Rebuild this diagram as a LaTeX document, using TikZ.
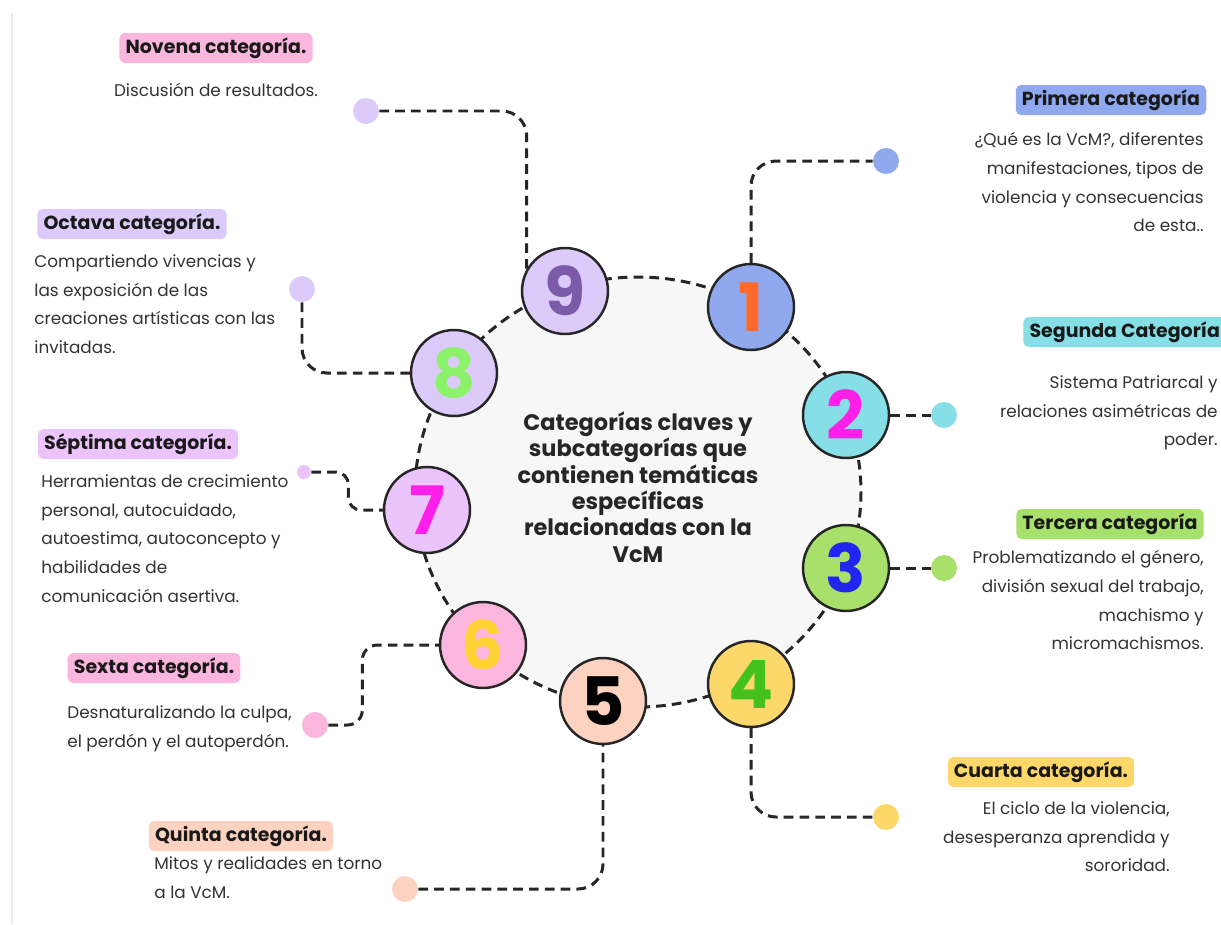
\documentclass[tikz,border=0pt]{standalone}
\usepackage{fontspec}
\setmainfont{Poppins}
\usepackage{tikz}

\definecolor{lila}{HTML}{DCCBFA}
\definecolor{azul}{HTML}{8FA8EE}
\definecolor{celeste}{HTML}{86DFE6}
\definecolor{verde}{HTML}{A7E06A}
\definecolor{amarillo}{HTML}{FCD86A}
\definecolor{durazno}{HTML}{FCD3C1}
\definecolor{rosa}{HTML}{FBB6DE}
\definecolor{violeta}{HTML}{EBC4FB}
\definecolor{fondo}{HTML}{F7F7F7}

\begin{document}
\begin{tikzpicture}
[x=0.02cm, y=-0.02cm,
link/.style={black!85, line width=1.7pt, dash pattern=on 5.5pt off 3.5pt, rounded corners=0.5cm},
num/.style={circle, draw=black!85, line width=1.4pt, minimum size=1.72cm, inner sep=0pt, font=\fontsize{38}{38}\bfseries},
dot/.style={circle, minimum size=0.52cm, inner sep=0pt},
tag/.style={rounded corners=3pt, inner xsep=3.5pt, inner ysep=0pt, minimum height=0.6cm, font=\fontsize{10.8}{12}\bfseries, text=black!90},
info/.style={inner sep=0pt, font=\fontsize{9.6}{16.4}\selectfont, text=black!80}]
\useasboundingbox[fill=white] (0,0) rectangle (1221,924);
\draw[black!8, line width=1pt] (12,13) -- (12,924);
\draw[link, fill=fondo] (638,492) ellipse [x radius=223, y radius=215];
\node[font=\fontsize{12.8}{15}\bfseries, align=center, text=black!85] (title) at (638,487) {Categorías claves y\\subcategorías que\\contienen temáticas\\específicas\\relacionadas con la\\VcM};
\node[num, fill=azul, text={rgb,255:red,255;green,107;blue,44}] (n1) at (751,307) {1};
\node[num, fill=celeste, text={rgb,255:red,255;green,31;blue,230}] (n2) at (846,415) {2};
\node[num, fill=verde, text={rgb,255:red,36;green,36;blue,240}] (n3) at (846,568) {3};
\node[num, fill=amarillo, text={rgb,255:red,69;green,193;blue,31}] (n4) at (751,684) {4};
\node[num, fill=durazno, text=black] (n5) at (603,701) {5};
\node[num, fill=rosa, text={rgb,255:red,255;green,210;blue,51}] (n6) at (483,645) {6};
\node[num, fill=violeta, text={rgb,255:red,255;green,31;blue,234}] (n7) at (427,510) {7};
\node[num, fill=lila, text={rgb,255:red,140;green,242;blue,106}] (n8) at (454,373) {8};
\node[num, fill=lila, text={rgb,255:red,122;green,91;blue,168}] (n9) at (565,291) {9};
\node[dot, fill=azul] (d1) at (886,161) {};
\node[dot, fill=celeste] (d2) at (944,415) {};
\node[dot, fill=verde] (d3) at (944,568) {};
\node[dot, fill=amarillo] (d4) at (886,817) {};
\node[dot, fill=durazno] (d5) at (405,889) {};
\node[dot, fill=rosa] (d6) at (315,725) {};
\node[dot, fill=violeta, minimum size=0.28cm] (d7) at (304,472) {};
\node[dot, fill=lila] (d8) at (302,289) {};
\node[dot, fill=lila] (d9) at (366,111) {};
\draw[link] (n1.north) |- (d1.west);
\draw[link] (n2.east) -- (d2.west);
\draw[link] (n3.east) -- (d3.west);
\draw[link] (n4.south) |- (d4.west);
\draw[link] (d5.east) -| (n5.south);
\draw[link, rounded corners=0.3cm] (d6.east) -- ++(34,0) |- (n6.west);
\draw[link, rounded corners=0.25cm] (d7.east) -- ++(37,0) |- (n7.west);
\draw[link] (d8.south) |- (n8.west);
\draw[link] (d9.east) -| (n9.150);
\node[tag, fill=azul] (l1) at (1111,100) {Primera categoría};
\node[info, anchor=north east, align=right] (t1) at (1204,132) {¿Qué es la VcM?, diferentes\\manifestaciones, tipos de\\violencia y consecuencias\\de esta..};
\node[tag, fill=celeste, anchor=west] (l2) at (1023,332) {Segunda Categoría};
\node[info, anchor=north east, align=right] (t2) at (1218,375) {Sistema Patriarcal y\\relaciones asimétricas de\\poder.};
\node[tag, fill=verde] (l3) at (1110,524) {Tercera categoría};
\node[info, anchor=north east, align=right] (t3) at (1204,550) {Problematizando el género,\\división sexual del trabajo,\\machismo y\\micromachismos.};
\node[tag, fill=amarillo] (l4) at (1041,772) {Cuarta categoría.};
\node[info, anchor=north east, align=right] (t4) at (1170,801) {El ciclo de la violencia,\\desesperanza aprendida y\\sororidad.};
\node[tag, fill=durazno] (l5) at (241,836) {Quinta categoría.};
\node[info, anchor=north west, align=left] (t5) at (154,856) {Mitos y realidades en torno\\a la VcM.};
\node[tag, fill=rosa] (l6) at (154,668) {Sexta categoría.};
\node[info, anchor=north west, align=left] (t6) at (67,705) {Desnaturalizando la culpa,\\el perdón y el autoperdón.};
\node[tag, fill=violeta] (l7) at (138,444) {Séptima categoría.};
\node[info, anchor=north west, align=left] (t7) at (41,474) {Herramientas de crecimiento\\personal, autocuidado,\\autoestima, autoconcepto y\\habilidades de\\comunicación asertiva.};
\node[tag, fill=lila] (l8) at (132,224) {Octava categoría.};
\node[info, anchor=north west, align=left] (t8) at (34,254) {Compartiendo vivencias y\\las exposición de las\\creaciones artísticas con las\\invitadas.};
\node[tag, fill=rosa] (l9) at (216,48) {Novena categoría.};
\node[info] (t9) at (216,90) {Discusión de resultados.};
\end{tikzpicture}
\end{document}
